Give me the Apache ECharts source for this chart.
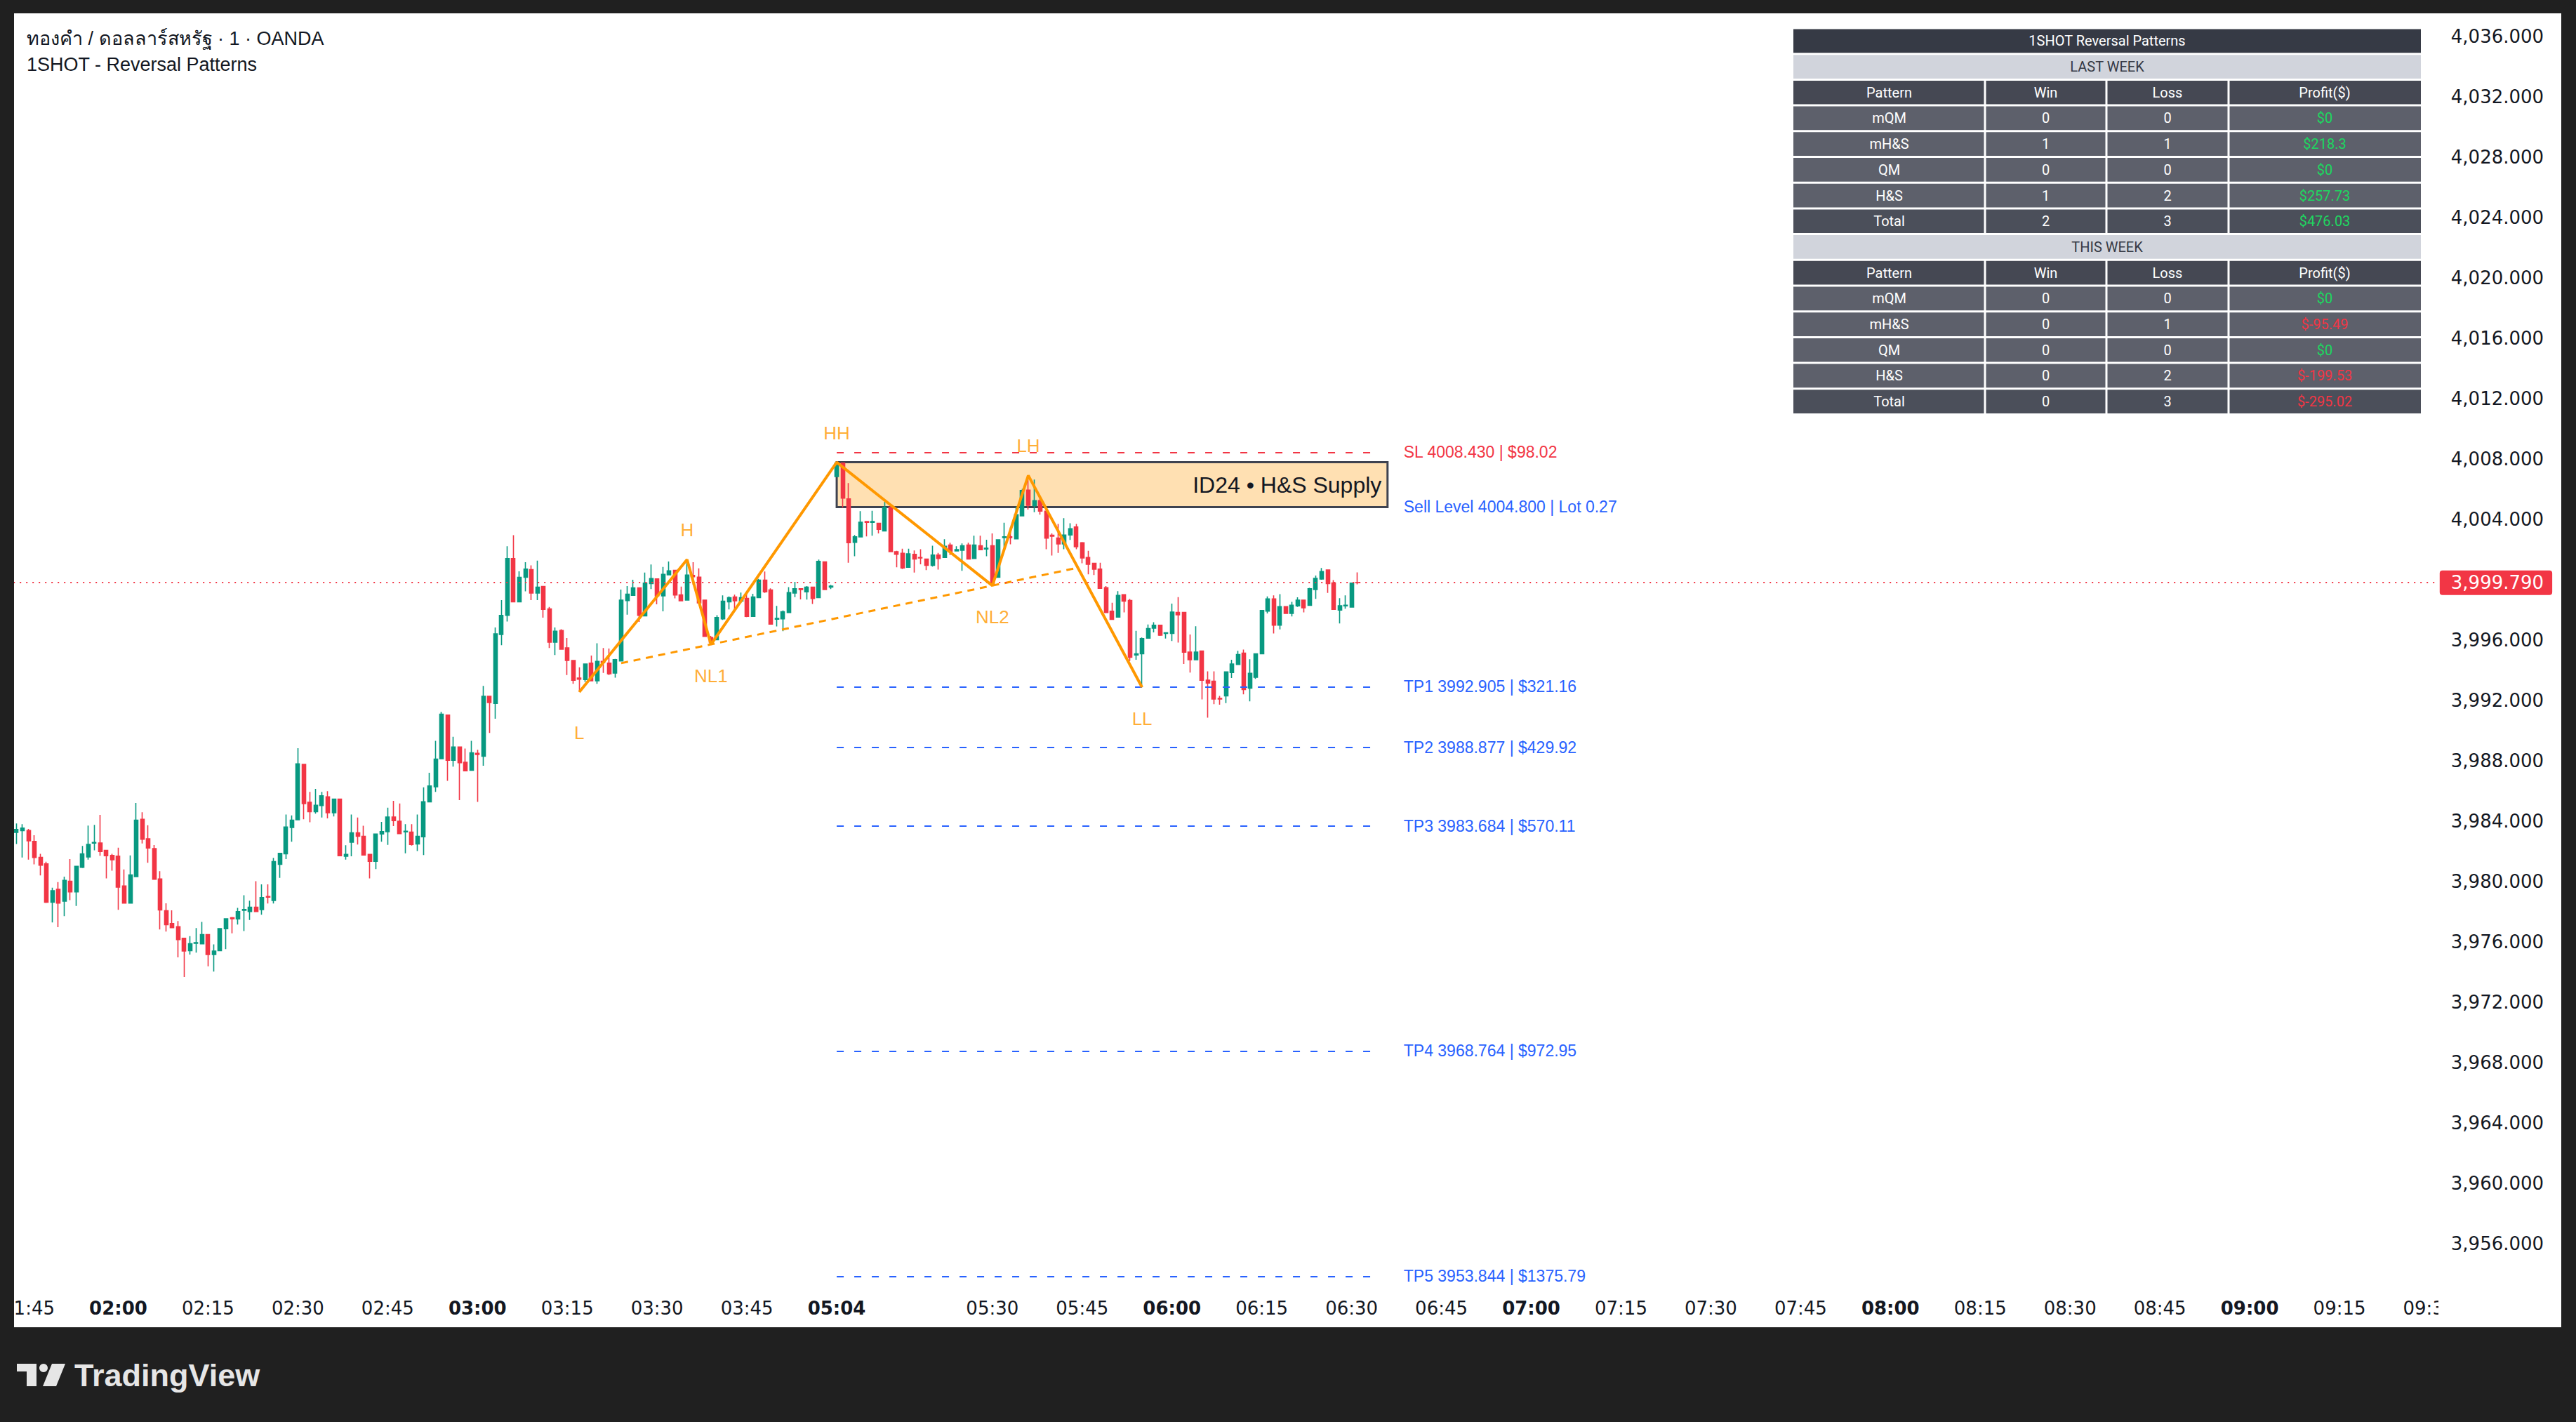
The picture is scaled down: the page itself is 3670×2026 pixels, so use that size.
<!DOCTYPE html>
<html><head><meta charset="utf-8">
<script src="https://cdn.jsdelivr.net/npm/echarts@6/dist/echarts.min.js"></script>
<style>
html,body{margin:0;padding:0;background:#202020;overflow:hidden;}
#panel{position:absolute;left:20px;top:19px;width:3629px;height:1872px;background:#ffffff;}
#c{position:absolute;left:0;top:0;width:3670px;height:2026px;}
</style>
</head><body><div id="panel"></div><div id="c"></div>
<script>
// ---------------- DATA ----------------
const sessions = [['01:43','03:59'],['05:04','09:31']];
const opens = [
3983.25,3983.37,3983.37,3982.65,3981.59,3981.16,3978.62,3979.48,3978.69,3980.01,
3979.31,3980.94,3981.62,3982.54,3982.55,3982.06,3981.72,3981.67,3979.70,3978.57,
3980.32,3984.12,3982.83,3982.18,3980.17,3978.06,3977.21,3977.00,3976.23,3975.42,
3975.90,3975.87,3976.48,3975.16,3975.42,3976.87,3977.59,3977.52,3978.09,3978.01,
3978.29,3978.14,3979.00,3978.74,3981.13,3981.83,3983.58,3984.09,3987.75,3985.25,
3984.62,3985.03,3985.61,3984.55,3985.45,3981.67,3982.60,3983.22,3982.99,3981.79,
3981.33,3983.14,3983.30,3984.27,3983.99,3983.28,3983.27,3982.48,3982.96,3985.27,
3986.27,3988.13,3991.02,3988.03,3988.91,3987.90,3987.37,3988.49,3988.29,3992.26,
3991.79,3996.36,3997.63,4001.39,3998.53,4000.15,4000.66,3999.11,3999.54,3998.05,
3995.85,3996.63,3995.47,3994.64,3993.48,3993.37,3994.46,3993.29,3994.58,3994.46,
3993.81,3994.61,3998.61,3998.95,3999.45,3997.59,3999.73,4000.04,3998.92,4000.32,
4000.61,3998.98,3998.64,4000.27,4000.16,3998.64,3996.16,3996.01,3997.40,3998.53,
3998.84,3998.57,3998.75,3997.56,3998.80,3999.96,3999.31,3997.37,3997.40,3997.82,
3999.11,3999.39,3999.19,3999.50,3998.80,4001.17,3999.50,4006.83,4007.71,4005.34,
4002.47,4002.83,4003.84,4003.79,4003.73,4003.22,4004.80,4001.85,4001.74,4000.81,
4001.67,4001.46,4001.36,4000.94,4001.62,4001.46,4002.29,4001.90,4001.94,4002.29,
4001.39,4002.24,4002.02,4002.24,4000.15,4002.78,4002.83,4002.70,4004.22,4005.93,
4004.89,4005.23,4004.53,4002.94,4002.75,4002.36,4002.95,4003.48,4002.44,4001.46,
4001.08,4000.69,3999.46,3997.90,3997.51,3999.00,3998.61,3995.00,3995.08,3996.12,
3996.78,3996.97,3996.43,3996.43,3997.82,3997.82,3995.19,3994.69,3995.26,3993.33,
3993.26,3992.13,3992.29,3993.84,3994.38,3995.12,3992.80,3993.53,3995.08,3997.91,
3998.72,3996.98,3998.21,3997.76,3998.26,3998.64,3998.29,3999.34,4000.04,4000.63,
3999.77,3997.98,3998.26,3998.18,3999.80];
const highs = [
3983.84,3983.79,3983.48,3983.06,3981.83,3981.31,3979.58,3979.96,3980.32,3981.48,
3981.02,3982.35,3983.70,3983.75,3984.41,3982.09,3981.83,3982.24,3980.79,3981.72,
3985.20,3984.58,3983.72,3982.41,3980.68,3978.55,3978.09,3977.38,3976.24,3976.38,
3976.91,3977.32,3976.51,3975.83,3976.91,3977.55,3977.64,3978.25,3979.08,3978.72,
3980.01,3979.81,3979.81,3981.56,3981.90,3984.43,3984.37,3988.83,3987.75,3985.93,
3986.13,3985.93,3985.98,3985.45,3985.45,3982.40,3984.43,3984.23,3983.69,3981.79,
3983.14,3983.95,3984.89,3985.34,3985.16,3983.79,3983.79,3984.43,3986.24,3987.20,
3989.31,3991.23,3991.02,3989.58,3988.91,3988.80,3989.31,3988.72,3992.95,3992.26,
3996.83,3998.64,4002.21,4002.94,4000.55,4001.15,4000.94,4001.25,3999.54,3998.18,
3996.83,3996.71,3996.13,3994.64,3994.19,3994.41,3994.97,3995.78,3995.47,3995.43,
3994.74,3999.34,3999.57,3999.99,3999.45,4000.46,4001.00,4000.04,4000.84,4001.20,
4000.61,3999.53,4001.32,4001.15,4000.74,3998.64,3996.27,3997.64,3998.95,3998.88,
3999.00,3999.14,3999.06,3999.06,4000.04,4000.53,3999.42,3998.26,3997.95,3999.50,
3999.85,3999.39,3999.57,3999.50,4001.32,4001.20,3999.65,4007.77,4007.71,4006.39,
4002.95,4004.53,4003.84,4004.56,4003.73,4005.15,4004.80,4001.90,4002.05,4002.05,
4001.93,4002.01,4001.36,4002.24,4001.77,4002.67,4002.44,4002.21,4002.39,4002.44,
4002.91,4002.91,4002.64,4003.06,4002.64,4003.76,4003.45,4004.84,4006.01,4006.90,
4006.63,4005.39,4004.53,4003.06,4003.68,4004.07,4003.73,4003.68,4002.49,4001.90,
4001.09,4001.12,3999.57,3998.46,3999.23,3999.03,3998.72,3996.60,3996.16,3997.02,
3997.17,3996.97,3996.50,3998.41,3998.84,3997.82,3996.36,3996.91,3995.26,3993.92,
3993.92,3992.29,3993.88,3994.69,3995.28,3995.36,3994.72,3995.08,3997.99,3998.88,
3998.95,3999.03,3998.21,3998.52,3998.83,3998.67,3999.45,4000.27,4000.77,4000.63,
3999.96,3998.77,3998.95,3999.76,4000.47];
const lows = [
3982.48,3981.59,3981.44,3981.13,3980.40,3978.57,3977.28,3976.97,3977.70,3978.76,
3978.38,3980.89,3981.44,3982.06,3981.70,3980.20,3980.71,3978.12,3978.54,3978.54,
3980.29,3982.52,3981.24,3980.12,3976.82,3976.68,3976.91,3974.97,3973.67,3975.16,
3975.28,3975.83,3974.38,3974.03,3975.39,3975.52,3976.56,3977.14,3976.71,3977.45,
3978.01,3977.79,3978.54,3978.54,3980.24,3981.48,3982.63,3984.09,3984.12,3983.92,
3984.49,3984.23,3984.18,3984.31,3981.70,3981.44,3981.67,3982.45,3981.72,3980.20,
3980.82,3982.63,3982.42,3983.66,3983.17,3981.86,3982.37,3982.01,3981.75,3985.27,
3985.93,3988.13,3986.66,3987.61,3985.39,3987.33,3987.37,3985.27,3987.67,3989.84,
3990.78,3995.65,3997.22,3998.53,3998.53,3999.22,3998.64,3998.64,3997.48,3995.47,
3995.00,3995.39,3993.68,3993.09,3992.55,3993.22,3993.29,3993.09,3993.81,3993.68,
3993.50,3994.61,3997.67,3998.95,3997.20,3997.59,3999.37,3998.36,3997.90,4000.32,
3998.75,3998.60,3998.64,3999.65,3998.46,3996.24,3995.70,3996.01,3997.33,3998.02,
3997.95,3998.44,3997.51,3997.56,3998.77,3999.11,3997.05,3996.89,3996.58,3997.82,
3998.84,3998.69,3998.67,3998.38,3998.80,3999.31,3999.37,4006.83,4004.77,4001.12,
4001.54,4002.83,4002.86,4002.91,4003.06,4003.22,4001.82,4000.81,4000.70,4000.81,
4000.46,4001.01,4000.63,4000.86,4000.66,4001.46,4001.63,4001.90,4000.58,4001.36,
4001.39,4001.98,4001.54,3999.60,4000.15,4002.13,4002.33,4002.70,4004.22,4004.64,
4004.46,4004.30,4002.01,4001.59,4001.77,4002.01,4002.63,4002.01,4001.08,4000.35,
4000.30,3999.42,3997.82,3997.36,3997.51,3997.82,3994.61,3994.69,3992.86,3996.12,
3996.50,3996.27,3996.09,3995.93,3995.82,3994.41,3993.84,3994.69,3992.06,3990.85,
3991.75,3991.71,3991.82,3993.48,3994.38,3992.40,3991.93,3993.42,3995.08,3997.76,
3996.43,3996.70,3997.76,3997.56,3998.18,3997.82,3998.26,3998.72,3999.99,3999.11,
3998.02,3997.09,3998.07,3998.15,3999.68];
const closes = [
3983.44,3983.53,3982.69,3981.59,3981.08,3978.62,3979.39,3978.57,3980.07,3979.31,
3981.00,3981.83,3982.45,3982.58,3981.98,3981.70,3981.44,3979.62,3978.57,3980.43,
3984.06,3982.80,3982.21,3980.15,3978.11,3977.14,3976.94,3976.15,3975.39,3975.87,
3975.95,3976.48,3975.16,3975.39,3976.87,3977.52,3977.53,3978.00,3978.14,3978.29,
3978.01,3978.93,3978.96,3981.31,3981.86,3983.61,3984.06,3987.79,3985.16,3984.62,
3985.05,3985.67,3984.55,3985.45,3981.70,3981.79,3983.22,3982.99,3981.75,3981.33,
3983.14,3983.30,3984.27,3984.03,3983.17,3983.33,3982.45,3982.99,3985.28,3986.32,
3988.10,3991.08,3988.03,3988.91,3987.87,3987.33,3988.52,3988.41,3992.26,3991.85,
3996.40,3997.63,4001.39,3998.53,4000.15,4000.69,3999.11,3999.50,3998.02,3995.85,
3996.58,3995.39,3994.64,3993.33,3993.40,3994.41,3993.29,3994.58,3994.50,3993.76,
3994.69,3998.64,3999.03,3999.45,3997.63,3999.76,4000.07,3998.91,4000.35,4000.58,
3998.98,3998.60,4000.30,4000.19,3998.46,3996.24,3995.85,3997.48,3998.57,3998.80,
3998.60,3998.80,3997.56,3998.84,3999.96,3999.19,3997.05,3997.43,3997.87,3999.14,
3999.39,3999.34,3999.50,3998.75,4001.20,3999.34,3999.57,4007.71,4005.39,4002.44,
4002.83,4003.80,4003.79,4003.84,4003.32,4004.77,4001.85,4001.67,4000.77,4001.70,
4001.36,4001.43,4000.94,4001.62,4001.40,4002.21,4001.87,4001.98,4002.24,4001.36,
4002.29,4001.98,4002.08,3999.65,4002.64,4002.83,4002.78,4004.30,4005.90,4004.92,
4005.23,4004.53,4002.75,4002.87,4002.36,4002.95,4003.37,4002.18,4001.43,4001.01,
4000.69,3999.42,3997.82,3997.36,3998.95,3998.57,3994.85,3995.08,3996.09,3996.75,
3996.97,3996.32,3996.47,3997.84,3997.67,3995.19,3994.69,3995.20,3993.33,3993.14,
3992.09,3992.09,3993.88,3994.41,3995.03,3992.71,3993.79,3995.08,3997.95,3998.72,
3996.98,3998.21,3997.76,3998.30,3998.64,3998.13,3999.39,4000.08,4000.53,3999.73,
3998.02,3998.26,3998.30,3999.76,3999.79];

const tickLabels = ['01:45','02:00','02:15','02:30','02:45','03:00','03:15','03:30','03:45','05:04','05:30','05:45','06:00','06:15','06:30','06:45','07:00','07:15','07:30','07:45','08:00','08:15','08:30','08:45','09:00','09:15','09:30'];
const boldLabels = ['02:00','03:00','05:04','06:00','07:00','08:00','09:00'];
const priceScale = {min:3952, max:4038.395, step:4};

const pivotNames  = ['L','H','NL1','HH','NL2','LH','LL'];
const pivotTimes  = ['03:17','03:35','03:39','05:04','05:30','05:36','05:55'];
const pivotPrices = [3992.55,4001.32,3995.70,4007.77,3999.60,4006.90,3992.86];
const pivotIsHigh = [false,true,false,true,false,true,false];
const necklineTimes  = ['03:24','05:44'];
const necklinePrices = [3994.46,4000.76];

const levelTimes  = ['05:04','06:34'];
const levelPrices = [4008.43,3992.905,3988.877,3983.684,3968.764,3953.844];
const levelTexts  = ['SL 4008.430 | $98.02','TP1 3992.905 | $321.16','TP2 3988.877 | $429.92','TP3 3983.684 | $570.11','TP4 3968.764 | $972.95','TP5 3953.844 | $1375.79'];
const sellPrice = 4004.8;
const sellText  = 'Sell Level 4004.800 | Lot 0.27';
const zoneTimes  = ['05:04','06:36'];
const zonePrices = [4007.77,4004.8];
const zoneText   = 'ID24 • H&S Supply';
const lastPrice  = 3999.79;

const titleMain = 'ทองคำ / ดอลลาร์สหรัฐ · 1 · OANDA';
const titleSub  = '1SHOT - Reversal Patterns';

const tableTitle = '1SHOT Reversal Patterns';
const tableHeader = ['Pattern','Win','Loss','Profit($)'];
const patterns = ['mQM','mH&S','QM','H&S','Total'];
const lastWeekWin = [0,1,0,1,2];
const lastWeekLoss = [0,1,0,2,3];
const lastWeekProfit = ['$0','$218.3','$0','$257.73','$476.03'];
const thisWeekWin = [0,0,0,0,0];
const thisWeekLoss = [0,1,0,2,3];
const thisWeekProfit = ['$0','$-95.49','$0','$-199.53','$-295.02'];

// ---------------- BUILD ----------------
function toMin(s){const p=s.split(':');return (+p[0])*60+(+p[1]);}
function fmt(m){return String(Math.floor(m/60)).padStart(2,'0')+':'+String(m%60).padStart(2,'0');}
const categories=[];
sessions.forEach(([a,b])=>{for(let m=toMin(a);m<=toMin(b);m++)categories.push(fmt(m));});
const tickSet=new Set(tickLabels), boldSet=new Set(boldLabels);
const candleData=opens.map((o,i)=>[o,closes[i],lows[i],highs[i]]);

const UP='#089981', DOWN='#f23645', BLUE='#2962ff', ORANGE='#ff9800', INK='#131722';
const AXFONT='"DejaVu Sans", sans-serif';
const TVFONT='"Liberation Sans", Arial, "Noto Sans", sans-serif';
const labelGap={L:44};

const levelMarks = levelPrices.map((p,i)=>{
  const col = i===0?DOWN:BLUE;
  return [{coord:[levelTimes[0],p],lineStyle:{color:col,width:2,type:[10,15]},
           label:{show:true,position:'end',distance:40,formatter:levelTexts[i],color:col,fontSize:23,fontFamily:TVFONT}},
          {coord:[levelTimes[1],p]}];
});
levelMarks.push([{coord:[levelTimes[0],sellPrice],lineStyle:{color:'rgba(255,255,255,0)',width:1},
  label:{show:true,position:'end',distance:40,formatter:sellText,color:BLUE,fontSize:23,fontFamily:TVFONT}},
  {coord:[levelTimes[1],sellPrice]}]);

// table graphics
const tX=[2555,2828,3001,3175,3449], tTop=40, rowH=36.7;
const tEls=[];
function txt(x,y,text,color){
  return {type:'text',z:51,x,y,style:{text,fill:color,fontSize:20,fontFamily:'Roboto, sans-serif',textAlign:'center',textVerticalAlign:'middle',align:'center',verticalAlign:'middle'}};
}
function fullRow(r,fill,text,color){
  tEls.push({type:'rect',z:50,shape:{x:tX[0],y:tTop+r*rowH+1.5,width:tX[4]-tX[0],height:rowH-3},style:{fill}});
  tEls.push(txt((tX[0]+tX[4])/2,tTop+r*rowH+rowH/2,text,color));
}
function row(r,fill,cells,colors){
  for(let c=0;c<4;c++){
    tEls.push({type:'rect',z:50,shape:{x:tX[c]+(c?1.5:0),y:tTop+r*rowH+1.5,width:tX[c+1]-tX[c]-(c?1.5:0)-(c<3?1.5:0),height:rowH-3},style:{fill}});
    tEls.push(txt((tX[c]+tX[c+1])/2,tTop+r*rowH+rowH/2,String(cells[c]),colors[c]));
  }
}
function profitColor(s){return s.indexOf('-')>=0?'#f23645':'#1ed760';}
fullRow(0,'#363a45',tableTitle,'#ffffff');
fullRow(1,'#d1d4dc','LAST WEEK','#363a45');
row(2,'#454853',tableHeader,['#fff','#fff','#fff','#fff']);
patterns.forEach((p,i)=>row(3+i,i===4?'#4b4f5a':'#5d606b',[p,lastWeekWin[i],lastWeekLoss[i],lastWeekProfit[i]],['#fff','#fff','#fff',profitColor(lastWeekProfit[i])]));
fullRow(8,'#d1d4dc','THIS WEEK','#363a45');
row(9,'#454853',tableHeader,['#fff','#fff','#fff','#fff']);
patterns.forEach((p,i)=>row(10+i,i===4?'#4b4f5a':'#5d606b',[p,thisWeekWin[i],thisWeekLoss[i],thisWeekProfit[i]],['#fff','#fff','#fff',profitColor(thisWeekProfit[i])]));

// frame covers (clip overflowing axis labels like TradingView panel edges)
const covers=[
  {type:'rect',z:100,shape:{x:0,y:0,width:20,height:2026},style:{fill:'#202020'}},
  {type:'rect',z:100,shape:{x:0,y:0,width:3670,height:19},style:{fill:'#202020'}},
  {type:'rect',z:100,shape:{x:3649,y:0,width:21,height:2026},style:{fill:'#202020'}},
  {type:'rect',z:100,shape:{x:0,y:1891,width:3670,height:135},style:{fill:'#202020'}},
  {type:'rect',z:99,shape:{x:3474,y:1838,width:175,height:52},style:{fill:'#ffffff'}},
  // TradingView logo
  {type:'rect',z:101,shape:{x:24,y:1943,width:28,height:11},style:{fill:'#e6e6e6'}},
  {type:'rect',z:101,shape:{x:38,y:1943,width:14,height:32},style:{fill:'#e6e6e6'}},
  {type:'circle',z:101,shape:{cx:62,cy:1949,r:6},style:{fill:'#e6e6e6'}},
  {type:'polygon',z:101,shape:{points:[[74,1943],[93,1943],[80,1975],[61,1975]]},style:{fill:'#e6e6e6'}},
  {type:'text',z:101,x:106,y:1959,style:{text:'TradingView',fill:'#e6e6e6',fontSize:45,fontWeight:'bold',fontFamily:TVFONT,textVerticalAlign:'middle',verticalAlign:'middle'}}
];

const chart=echarts.init(document.getElementById('c'),null,{renderer:'svg',width:3670,height:2026});
chart.setOption({
  animation:false,
  backgroundColor:'transparent',
  title:[
    {text:titleMain,left:38,top:41,padding:0,textStyle:{fontSize:27,fontWeight:'normal',color:INK,fontFamily:TVFONT}},
    {text:titleSub,left:38,top:78,padding:0,textStyle:{fontSize:27,fontWeight:'normal',color:INK,fontFamily:TVFONT}}
  ],
  grid:{left:19.2,right:196.2,top:0,bottom:168,containLabel:false},
  xAxis:{type:'category',data:categories,boundaryGap:true,
    axisLine:{show:false},axisTick:{show:false},splitLine:{show:false},
    axisLabel:{interval:(i,v)=>tickSet.has(v),margin:6,verticalAlign:'middle',color:INK,fontSize:26,fontFamily:AXFONT,
      formatter:v=>boldSet.has(v)?'{b|'+v+'}':v,
      rich:{b:{fontWeight:'bold',fontSize:26,fontFamily:AXFONT,color:INK}}}},
  yAxis:{type:'value',position:'right',min:priceScale.min,max:priceScale.max,interval:priceScale.step,
    axisLine:{show:false},axisTick:{show:false},splitLine:{show:false},
    axisLabel:{margin:18,color:INK,fontSize:26,fontFamily:AXFONT,showMinLabel:false,showMaxLabel:false,
      formatter:v=>v.toLocaleString('en-US',{minimumFractionDigits:3,maximumFractionDigits:3})}},
  graphic:{elements:tEls.concat(covers)},
  series:[
    {type:'line',name:'zone',data:[],z:1,silent:true,
      markArea:{silent:true,data:[[{coord:[zoneTimes[0],zonePrices[0]],
        itemStyle:{color:'#ffe0b2',borderColor:'#3f4350',borderWidth:3},
        label:{show:true,position:'insideRight',distance:10,formatter:zoneText,color:INK,fontSize:32,fontFamily:TVFONT}},
        {coord:[zoneTimes[1],zonePrices[1]]}]]}},
    {type:'candlestick',name:'XAUUSD',data:candleData,barWidth:5.5,z:2,
      itemStyle:{color:UP,color0:DOWN,borderColor:UP,borderColor0:DOWN,borderWidth:1.6},
      markLine:{silent:true,symbol:['none','none'],animation:false,
        data:[{yAxis:lastPrice,lineStyle:{color:DOWN,width:2,type:[2,7]},
          label:{show:true,position:'end',distance:2,formatter:lastPrice.toLocaleString('en-US',{minimumFractionDigits:3}),
            color:'#ffffff',backgroundColor:DOWN,padding:[4,12,4,16],borderRadius:4,fontSize:26,lineHeight:27,fontFamily:AXFONT}}
        ].concat(levelMarks)}},
    {type:'line',name:'neckline',data:necklineTimes.map((t,i)=>[t,necklinePrices[i]]),z:4,symbol:'none',silent:true,
      lineStyle:{color:ORANGE,width:3,type:[10,8]}},
    {type:'line',name:'zigzag',data:pivotTimes.map((t,i)=>[t,pivotPrices[i]]),z:5,symbol:'none',silent:true,
      lineStyle:{color:ORANGE,width:4}},
    {type:'scatter',name:'pivots',z:6,symbol:'circle',symbolSize:2,itemStyle:{color:'rgba(0,0,0,0)'},silent:true,
      data:pivotNames.map((n,i)=>({name:n,value:[pivotTimes[i],pivotPrices[i]],
        label:{show:true,formatter:n,position:pivotIsHigh[i]?'top':'bottom',distance:labelGap[n]||(pivotIsHigh[i]?28:31),
          color:ORANGE,fontSize:26,fontFamily:TVFONT}}))}
  ]
});
</script>
</body></html>
